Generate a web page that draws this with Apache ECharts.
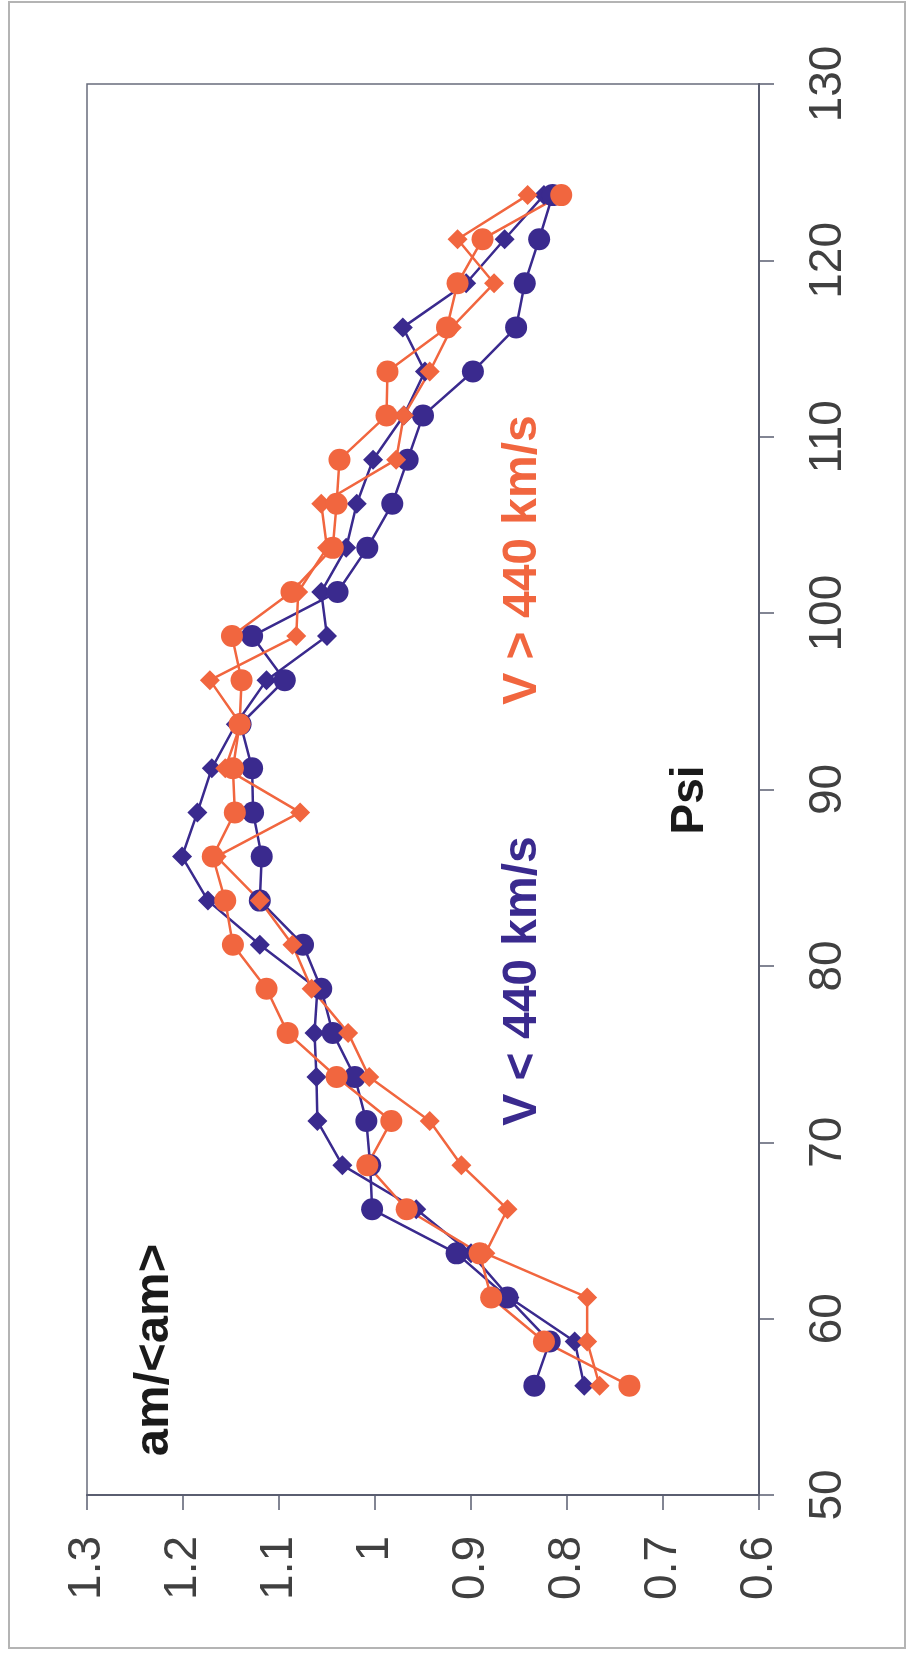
<!DOCTYPE html>
<html>
<head>
<meta charset="utf-8">
<script src="https://cdn.jsdelivr.net/npm/echarts@6/dist/echarts.min.js"></script>
<style>
html,body{margin:0;padding:0;background:#fff;}
#chart{width:910px;height:1659px;}
</style>
</head>
<body>
<div id="chart"></div>
<script>
// Psi bin centres (top of picture to bottom)
const psi = [123.7,121.2,118.7,116.2,113.7,111.2,108.7,106.2,103.7,101.2,98.7,96.2,93.7,91.2,88.7,86.2,83.7,81.2,78.7,76.2,73.7,71.2,68.7,66.2,63.7,61.2,58.7,56.2];
// am/<am> values, V < 440 km/s (blue)
const blueCircle  = [0.815,0.829,0.844,0.853,0.898,0.950,0.966,0.982,1.008,1.039,1.128,1.094,1.140,1.128,1.127,1.118,1.120,1.075,1.056,1.044,1.021,1.009,1.005,1.003,0.915,0.862,0.818,0.834];
const blueDiamond = [0.824,0.865,0.905,0.971,0.948,0.970,1.002,1.019,1.030,1.056,1.050,1.113,1.145,1.170,1.185,1.201,1.174,1.120,1.060,1.063,1.061,1.060,1.034,0.957,0.900,0.860,0.792,0.782];
// am/<am> values, V > 440 km/s (orange)
const orangeCircle  = [0.806,0.888,0.914,0.925,0.987,0.988,1.037,1.040,1.044,1.087,1.149,1.139,1.141,1.148,1.146,1.169,1.156,1.148,1.113,1.091,1.040,0.983,1.008,0.967,0.891,0.879,0.824,0.735];
const orangeDiamond = [0.841,0.914,0.876,0.920,0.943,0.970,0.978,1.056,1.050,1.080,1.082,1.172,1.140,1.156,1.078,1.165,1.120,1.086,1.066,1.028,1.006,0.943,0.910,0.862,0.885,0.779,0.779,0.766];

const BLUE = '#3a2a8e';
const ORANGE = '#f1663f';
const FONT = '"Liberation Sans", Arial, sans-serif';

function pairs(vals){ return vals.map((v,i)=>[v, psi[i]]); }
function mk(name, vals, color, symbol, size){
  return {
    name, type:'line', data:pairs(vals), symbol, symbolSize:size,
    lineStyle:{color, width:2.5}, itemStyle:{color},
    emphasis:{disabled:true}, animation:false, z:3
  };
}

const chart = echarts.init(document.getElementById('chart'), null, {renderer:'canvas'});
chart.setOption({
  backgroundColor:'#ffffff',
  animation:false,
  grid:{left:87, right:151, top:84, bottom:164, show:true, borderColor:'#686c7c', borderWidth:1.5, backgroundColor:'transparent'},
  xAxis:{
    type:'value', min:0.6, max:1.3, interval:0.1, inverse:true, position:'bottom',
    axisLine:{show:true, lineStyle:{color:'#5a5e70', width:2}},
    axisTick:{show:true, inside:false, length:15, lineStyle:{color:'#5a5e70', width:1.5}},
    splitLine:{show:false},
    axisLabel:{rotate:90, margin:41, fontSize:46, fontFamily:FONT, color:'#404040',
      formatter:v=>String(Math.round(v*10)/10)}
  },
  yAxis:{
    type:'value', min:50, max:130, interval:10, position:'right',
    axisLine:{show:true, lineStyle:{color:'#5a5e70', width:2}},
    axisTick:{show:true, inside:false, length:15, lineStyle:{color:'#5a5e70', width:1.5}},
    splitLine:{show:false},
    axisLabel:{rotate:90, margin:46, fontSize:46, fontFamily:FONT, color:'#404040'}
  },
  series:[
    mk('V<440 diamond', blueDiamond, BLUE, 'diamond', 20),
    mk('V<440 circle', blueCircle, BLUE, 'circle', 22),
    mk('V>440 diamond', orangeDiamond, ORANGE, 'diamond', 20),
    mk('V>440 circle', orangeCircle, ORANGE, 'circle', 22)
  ],
  graphic:[
    {type:'rect', shape:{x:9, y:2, width:896, height:1646}, style:{fill:'none', stroke:'#b4b4b4', lineWidth:2}, z:0, silent:true},
    {type:'text', x:154, y:1350, rotation:Math.PI/2, style:{text:'am/<am>', font:'bold 49px '+FONT, fill:'#1a1a1a', align:'center', verticalAlign:'middle'}, z:10},
    {type:'text', x:690, y:800, rotation:Math.PI/2, style:{text:'Psi', font:'bold 46px '+FONT, fill:'#1a1a1a', align:'center', verticalAlign:'middle'}, z:10},
    {type:'text', x:523, y:560, rotation:Math.PI/2, style:{text:'V > 440 km/s', font:'bold 48px '+FONT, fill:ORANGE, align:'center', verticalAlign:'middle'}, z:10},
    {type:'text', x:523, y:981, rotation:Math.PI/2, style:{text:'V < 440 km/s', font:'bold 48px '+FONT, fill:BLUE, align:'center', verticalAlign:'middle'}, z:10}
  ]
});
</script>
</body>
</html>
